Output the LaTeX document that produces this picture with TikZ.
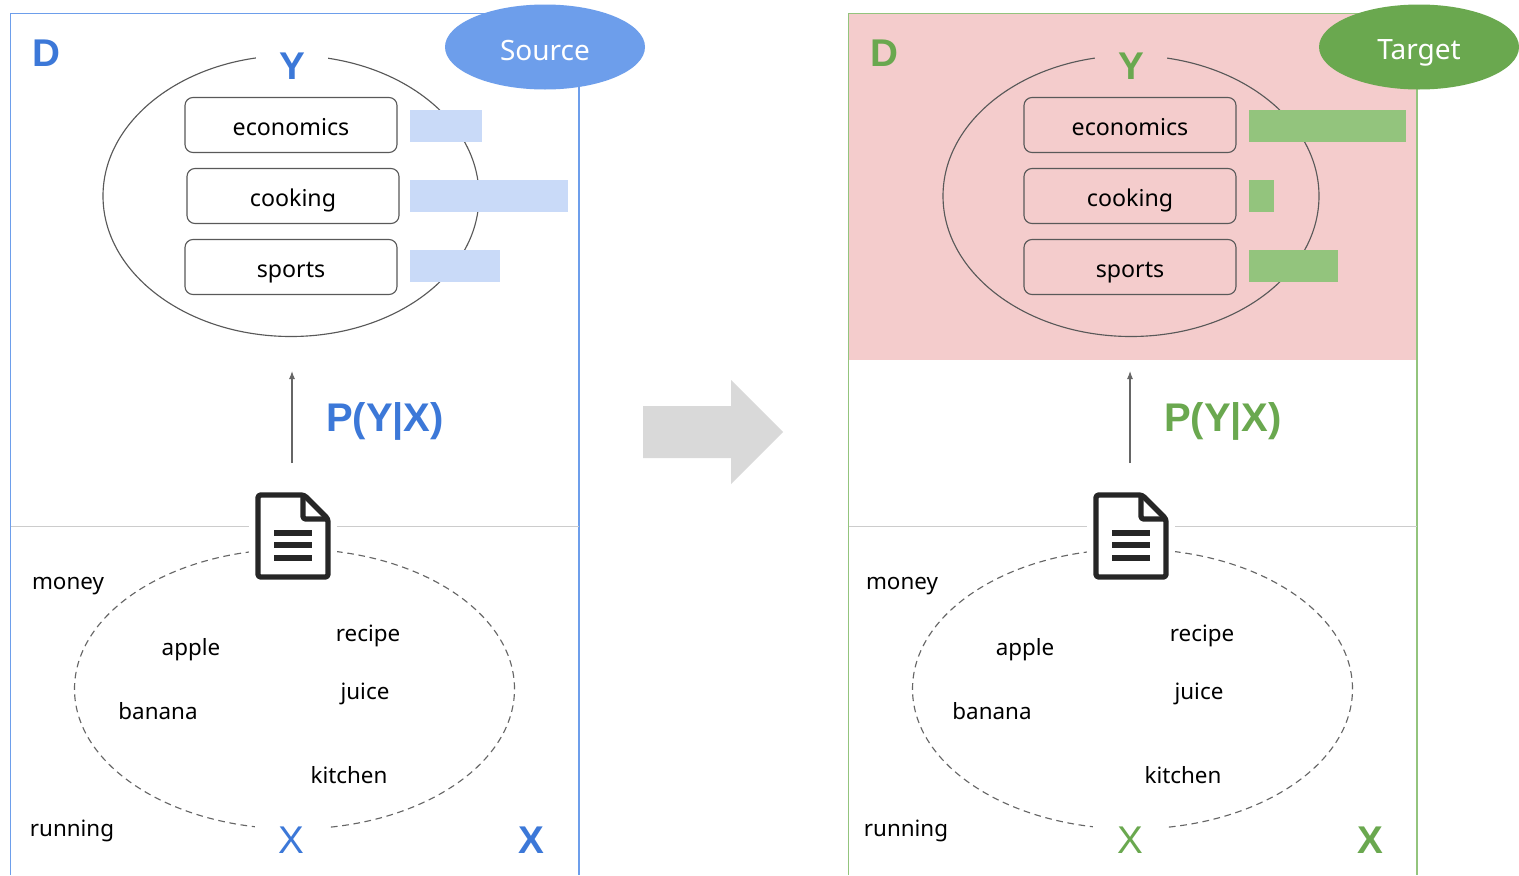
\documentclass[tikz,border=0pt]{standalone}
\usepackage{fontspec}
\setmainfont{Noto Sans}
\newfontfamily\bigfont{Liberation Sans}
\usetikzlibrary{shapes.geometric,arrows.meta}
\def\uu{0.75pt}
\newcommand{\lowered}[2]{\raisebox{-#1}[\height][\depth]{#2}}
\tikzset{
  x=0.75pt,y=-0.75pt,
  panelline/.style={line width=0.9pt},
  wordlabel/.style={font=\fontsize{16.8}{20}\selectfont,text=black,inner sep=0pt},
  catbox/.style={draw=black!65,line width=0.85pt,rounded corners=6pt,minimum width=212*\uu,minimum height=55*\uu,inner sep=0pt,font=\fontsize{17.4}{20}\selectfont},
  bar/.style={anchor=west,minimum height=32*\uu,inner sep=0pt,outer sep=0pt},
  bigletter/.style={font=\bigfont\fontsize{29}{32}\selectfont\bfseries,inner sep=0pt},
  thinletter/.style={font=\bigfont\fontsize{29}{32}\selectfont,inner sep=0pt},
  yring/.style={ellipse,draw=black!65,line width=0.85pt,minimum width=376*\uu,minimum height=281*\uu,inner sep=0pt},
  xring/.style={ellipse,draw=black!60,dashed,dash pattern=on 5pt off 3.5pt,line width=0.85pt,minimum width=440*\uu,minimum height=280*\uu,inner sep=0pt},
  tag/.style={ellipse,minimum width=200*\uu,minimum height=85*\uu,inner sep=0pt,text=white,font=\fontsize{21}{24}\selectfont},
  gapmask/.style={inner sep=0pt,minimum width=72*\uu,minimum height=30*\uu},
  docstroke/.style={draw=black!85,line width=4pt,line join=round},
  uparrow/.style={draw=black!60,line width=0.8pt,-{Latex[length=6pt,width=4.5pt]}},
}
% #1 prefix, #2 x shift, #3 main colour, #4 line colour, #5 bar colour, #6 background, #7-#9 bar widths
% \ws: shift of the word labels, \ds: shift of letters and boxes, \cs: shift of the middle box
\newcommand{\panel}[9]{%
\begin{scope}[shift={(#2,0)},name prefix=#1-]
  \coordinate (fa) at (10.5,875); \coordinate (fb) at (10.5,13.5);
  \coordinate (fc) at (579,13.5); \coordinate (fd) at (579,875);
  \coordinate (ma) at (11,526); \coordinate (mb) at (579,526);
  \ifx#6\relax\else\fill[#6] (11,14) rectangle (578,360);\fi
  \draw[panelline,draw=#4] (fa) -- (fb) -- (fc) -- (fd);
  \draw[draw=black!20,line width=0.7pt] (ma) -- (mb);
  \node[bigletter,text=#3] (d) at (46,53) {D};
  \node[yring] (ring) at (291+\ds*2,196) {};
  \node[gapmask,fill=\ifx#6\relax white\else #6\fi] (ymask) at (292+\ds,57) {};
  \node[bigletter,text=#3] (y) at (292+\ds,66) {Y};
  \node[catbox,fill=\ifx#6\relax white\else #6\fi] (b1) at (291+\ds,125) {\lowered{1.5pt}{economics}};
  \node[catbox,fill=\ifx#6\relax white\else #6\fi] (b2) at (293+\cs,196) {\lowered{3pt}{cooking}};
  \node[catbox,fill=\ifx#6\relax white\else #6\fi] (b3) at (291+\ds,267) {\lowered{4.5pt}{sports}};
  \node[bar,fill=#5,minimum width=#7*\uu] (v1) at (410+\ds,126) {};
  \node[bar,fill=#5,minimum width=#8*\uu] (v2) at (410+\ds,196) {};
  \node[bar,fill=#5,minimum width=#9*\uu] (v3) at (410+\ds,266) {};
  \coordinate (as) at (292,463); \coordinate (ae) at (292,371);
  \draw[uparrow] (as) -- (ae);
  \node[font=\bigfont\fontsize{30}{34}\selectfont\bfseries,text=#3,inner sep=0pt] (p) at (385,421) {P(Y|X)};
  \node[xring] (xr) at (294.5,689) {};
  \node[gapmask,fill=white,minimum width=73*\uu,minimum height=26*\uu] (xmask) at (291,830) {};
  \node[thinletter,text=#3] (x1) at (291+\ds,840) {X};
  \node[bigletter,text=#3] (x2) at (531+\ds,840) {X};
  \node[fill=white,minimum width=88*\uu,minimum height=92*\uu,inner sep=0pt] (doc) at (293,536) {};
  \draw[docstroke,rounded corners=2pt] (304,495) -- (258,495) -- (258,577) -- (328,577) -- (328,519) -- cycle;
  \draw[docstroke,rounded corners=2pt] (303,495) -- (303,519) -- (328,519);
  \foreach \yy in {533,545,558}
    \draw[draw=black!85,line width=4pt] (274,\yy) -- (312,\yy);
  \begin{scope}[shift={(\ws,0)}]
  \node[wordlabel] (w1) at (68,586) {money};
  \node[wordlabel] (w2) at (191,650) {apple};
  \node[wordlabel] (w3) at (368,636) {recipe};
  \node[wordlabel] (w4) at (365,694) {juice};
  \node[wordlabel] (w5) at (158,711) {banana};
  \node[wordlabel] (w6) at (349,775) {kitchen};
  \node[wordlabel] (w7) at (72,831) {running};
  \end{scope}
\end{scope}}
\begin{document}
\begin{tikzpicture}
\useasboundingbox (0,0) rectangle (1519,875);
\fill[white] (0,0) rectangle (1519,875);
\definecolor{tblue}{HTML}{3C78D8}
\definecolor{lblue}{HTML}{6D9EEB}
\definecolor{bblue}{HTML}{C9DAF8}
\definecolor{tgreen}{HTML}{6AA84F}
\definecolor{lgreen}{HTML}{93C47D}
\definecolor{pinkbg}{HTML}{F4CCCC}
\def\ws{0}\def\ds{0}\def\cs{0}
\panel{s}{0}{tblue}{lblue}{bblue}{\relax}{72}{158}{90}
\def\ws{-4}\def\ds{1}\def\cs{-1}
\panel{t}{838}{tgreen}{lgreen}{lgreen}{pinkbg}{157}{25}{89}
\node[tag,fill=lblue] (source) at (545,47) {\lowered{2.25pt}{Source}};
\node[tag,fill=tgreen] (target) at (1419,47) {\lowered{4.5pt}{Target}};
\fill[black!15] (643,406) -- (731,406) -- (731,380) -- (783,432) -- (731,484) -- (731,458) -- (643,458) -- cycle;
\end{tikzpicture}
\end{document}
